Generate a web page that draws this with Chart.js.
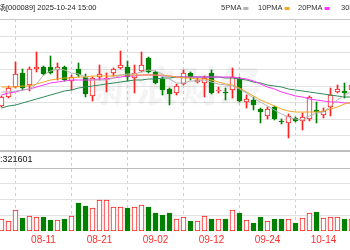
<!DOCTYPE html>
<html><head><meta charset="utf-8">
<script src="https://cdn.jsdelivr.net/npm/chart.js@4"></script>
<style>html,body{margin:0;padding:0;background:#fff;overflow:hidden}canvas{display:block}</style>
</head><body>
<canvas id="c" width="350" height="250"></canvas>
<script>
// ---------------- data ----------------
const dates = ['08-01','08-04','08-05','08-06','08-07','08-08','08-11','08-12','08-13','08-14','08-15','08-18','08-19','08-20','08-21','08-22','08-25','08-26','08-27','08-28','08-29','09-01','09-02','09-03','09-04','09-05','09-08','09-09','09-10','09-11','09-12','09-15','09-16','09-17','09-18','09-19','09-22','09-23','09-24','09-25','09-26','09-29','09-30','10-09','10-10','10-13','10-14','10-15','10-16','10-17','10-20'];
const opens  = [7.94,8.03,8.13,8.27,8.15,8.31,8.33,8.33,8.30,8.33,8.19,8.31,8.23,8.04,8.23,8.21,8.27,8.32,8.33,8.22,8.29,8.42,8.28,8.21,8.11,8.07,8.16,8.27,8.18,8.17,8.27,8.09,8.08,8.10,8.21,7.98,8.00,7.91,7.84,7.93,7.79,7.77,7.82,7.79,7.81,7.90,7.85,7.93,8.08,8.09,8.10];
const highs  = [8.04,8.14,8.38,8.31,8.33,8.48,8.34,8.44,8.37,8.34,8.25,8.37,8.26,8.23,8.35,8.27,8.32,8.49,8.39,8.35,8.48,8.43,8.29,8.23,8.12,8.16,8.30,8.28,8.22,8.24,8.30,8.13,8.12,8.32,8.23,8.05,8.03,7.92,7.93,7.94,7.81,7.86,7.83,7.87,8.04,7.98,7.92,8.12,8.15,8.17,8.16];
const lows   = [7.93,8.02,8.12,8.10,8.09,8.28,8.25,8.26,8.20,8.19,8.10,8.23,8.03,7.99,8.20,8.08,8.24,8.31,8.19,8.07,8.28,8.27,8.16,8.05,7.95,8.05,8.15,8.20,8.17,8.03,8.06,8.07,8.00,8.02,7.98,7.92,7.90,7.77,7.81,7.80,7.76,7.62,7.78,7.70,7.79,7.77,7.82,7.84,8.07,8.02,8.09];
const closes = [8.03,8.12,8.26,8.12,8.31,8.33,8.26,8.27,8.33,8.20,8.23,8.25,8.06,8.22,8.26,8.22,8.31,8.35,8.23,8.27,8.35,8.28,8.17,8.10,8.06,8.14,8.27,8.23,8.20,8.22,8.07,8.10,8.07,8.23,7.99,8.01,7.95,7.88,7.91,7.81,7.78,7.84,7.79,7.83,8.03,7.88,7.89,8.05,8.11,8.07,8.15];
const ma5  = [8.08,8.08,8.09,8.10,8.11,8.16,8.25,8.29,8.31,8.30,8.27,8.26,8.23,8.20,8.20,8.20,8.22,8.25,8.26,8.26,8.28,8.30,8.29,8.26,8.21,8.17,8.17,8.19,8.19,8.20,8.18,8.16,8.15,8.14,8.11,8.07,8.02,7.98,7.94,7.90,7.86,7.83,7.81,7.80,7.84,7.87,7.88,7.94,8.00,8.05,8.08];
const ma10 = [8.13,8.13,8.13,8.14,8.14,8.16,8.18,8.20,8.21,8.22,8.22,8.23,8.23,8.24,8.24,8.24,8.24,8.25,8.25,8.25,8.25,8.25,8.25,8.25,8.24,8.23,8.22,8.22,8.21,8.21,8.20,8.18,8.16,8.15,8.12,8.08,8.04,8.00,7.97,7.94,7.91,7.89,7.88,7.88,7.88,7.88,7.89,7.91,7.93,7.96,7.98];
const ma20 = [8.05,8.07,8.08,8.10,8.11,8.13,8.15,8.17,8.18,8.19,8.20,8.20,8.20,8.20,8.21,8.21,8.22,8.23,8.24,8.24,8.25,8.25,8.25,8.24,8.24,8.23,8.23,8.23,8.23,8.23,8.23,8.23,8.23,8.23,8.22,8.21,8.19,8.16,8.13,8.11,8.08,8.06,8.04,8.03,8.01,8.00,7.99,7.98,7.98,7.97,7.97];
const ma30 = [7.92,7.94,7.95,7.97,7.99,8.01,8.03,8.05,8.07,8.09,8.10,8.12,8.13,8.14,8.15,8.16,8.17,8.18,8.19,8.20,8.20,8.21,8.21,8.22,8.22,8.23,8.23,8.23,8.23,8.23,8.23,8.23,8.22,8.22,8.21,8.20,8.18,8.17,8.15,8.14,8.13,8.11,8.10,8.09,8.08,8.07,8.06,8.05,8.04,8.03,8.03];
const volumes = [304800,254000,533400,330200,381000,355600,355600,279400,279400,304800,381000,711200,635000,584200,787400,787400,609600,609600,584200,609600,660400,609600,457200,406400,457200,304800,355600,254000,254000,381000,304800,304800,304800,533400,457200,279400,203200,355600,254000,304800,304800,304800,203200,330200,457200,482600,330200,355600,355600,304800,304800];
const tickIndex  = [6,14,22,30,38,46];
const priceGrid  = [8.635,8.47,8.305,8.14,7.975,7.81,7.645];
const volumeGrid = [400000,800000,1200000];
const titleText = '深圳机场[000089] 2025-10-24 15:00';
const legendNames = ['5PMA','10PMA','20PMA','30PMA'];
const legendColors = ['#b4b4b4','#f5a623','#ff33ff','#2e8b57'];
const volumeLabel = '成交量:321601';
const watermark = '新浪财经';

// ---------------- chart ----------------
const RED = '#ff2020', GREEN = '#008000';
const up = i => closes[i] >= opens[i];
const pts = arr => arr.map((v, i) => ({x: i, y: v}));
const legendX = [221, 258, 298, 341];

const bgPlugin = {
  id: 'bg',
  beforeDraw(chart) {
    const c = chart.ctx; c.save(); c.fillStyle = '#fff'; c.fillRect(0, 0, chart.width, chart.height); c.restore();
  },
  beforeDatasetsDraw(chart) {
    const c = chart.ctx; c.save();
    c.font = 'bold 42px "Noto Sans CJK SC"';
    c.fillStyle = 'rgba(0,0,0,0.045)';
    c.textAlign = 'center'; c.textBaseline = 'middle';
    c.fillText(watermark, 178, 86);
    c.restore();
  },
  afterDraw(chart) {
    const c = chart.ctx; c.save();
    c.fillStyle = '#c8c8c8';
    c.fillRect(0, 19, chart.width, 1);
    c.fillStyle = '#bdbdbd';
    c.fillRect(0, 150, chart.width, 2);
    c.fillRect(0, 168, chart.width, 1);
    c.fillStyle = '#222';
    c.font = '7.5px "Liberation Sans"';
    c.textBaseline = 'middle';
    const pre = c.measureText('深圳机场').width;
    c.fillText(titleText, 6 - pre, 8);
    legendNames.forEach((n, k) => {
      c.fillStyle = '#333';
      c.fillText(n, legendX[k], 8);
      const x = legendX[k] + c.measureText(n).width + 2;
      c.fillStyle = legendColors[k];
      c.fillRect(x, 7, 5, 3);
    });
    c.fillStyle = '#111';
    c.font = '9px "Liberation Sans"';
    const pv = c.measureText('成交量').width;
    c.fillText(volumeLabel, 0 - pv, 160);
    c.restore();
  }
};

const X0 = -1.5 / 7;
new Chart(document.getElementById('c'), {
  type: 'bar',
  data: {
    datasets: [
      {type: 'line', data: pts(ma5),  borderColor: legendColors[0], borderWidth: 1, pointRadius: 0, tension: 0, yAxisID: 'yP'},
      {type: 'line', data: pts(ma10), borderColor: legendColors[1], borderWidth: 1, pointRadius: 0, tension: 0, yAxisID: 'yP'},
      {type: 'line', data: pts(ma20), borderColor: legendColors[2], borderWidth: 1, pointRadius: 0, tension: 0, yAxisID: 'yP'},
      {type: 'line', data: pts(ma30), borderColor: legendColors[3], borderWidth: 1, pointRadius: 0, tension: 0, yAxisID: 'yP'},
      {data: opens.map((o, i) => ({x: i, y: [o, closes[i]]})), yAxisID: 'yP',
       backgroundColor: c => up(c.dataIndex) ? '#fff' : GREEN,
       borderColor: c => up(c.dataIndex) ? RED : GREEN,
       borderWidth: 1, borderSkipped: false, barThickness: 5, minBarLength: 1, grouped: false},
      {data: lows.map((l, i) => ({x: i, y: [l, highs[i]]})), yAxisID: 'yP',
       backgroundColor: c => up(c.dataIndex) ? RED : GREEN,
       borderWidth: 0, barThickness: 1, grouped: false},
      {data: volumes.map((v, i) => ({x: i, y: v})), yAxisID: 'yV',
       backgroundColor: c => up(c.dataIndex) ? '#fff' : GREEN,
       borderColor: c => up(c.dataIndex) ? RED : GREEN,
       borderWidth: 1, borderSkipped: false, barThickness: 5, grouped: false}
    ]
  },
  plugins: [bgPlugin],
  options: {
    responsive: false, animation: false,
    layout: {padding: {top: 19, left: 0, right: 0, bottom: 0}},
    plugins: {legend: {display: false}, tooltip: {enabled: false}, title: {display: false}},
    scales: {
      x: {
        type: 'linear', offset: false, min: X0, max: X0 + 50,
        afterBuildTicks: s => { s.ticks = tickIndex.map(v => ({value: v})); },
        afterFit: s => { s.height = 19; },
        ticks: {autoSkip: false, maxRotation: 0, padding: 3, color: '#ff3030',
                font: {family: 'Liberation Sans', size: 10},
                callback: v => dates[v]},
        grid: {color: '#cfcfcf', lineWidth: 1, drawTicks: false},
        border: {display: false, dash: [3, 3]}
      },
      yP: {
        type: 'linear', position: 'left', min: 6.69, max: 8.81,
        afterBuildTicks: s => { s.ticks = priceGrid.map(v => ({value: v})); },
        afterFit: s => { s.width = 0; },
        ticks: {display: false},
        grid: {color: '#e2e2e2', lineWidth: 1, drawTicks: false},
        border: {display: false}
      },
      yV: {
        type: 'linear', position: 'left', min: 0, max: 5384800,
        afterBuildTicks: s => { s.ticks = volumeGrid.map(v => ({value: v})); },
        afterFit: s => { s.width = 0; },
        ticks: {display: false},
        grid: {color: '#e2e2e2', lineWidth: 1, drawTicks: false},
        border: {display: false}
      }
    }
  }
});
</script>
</body></html>
